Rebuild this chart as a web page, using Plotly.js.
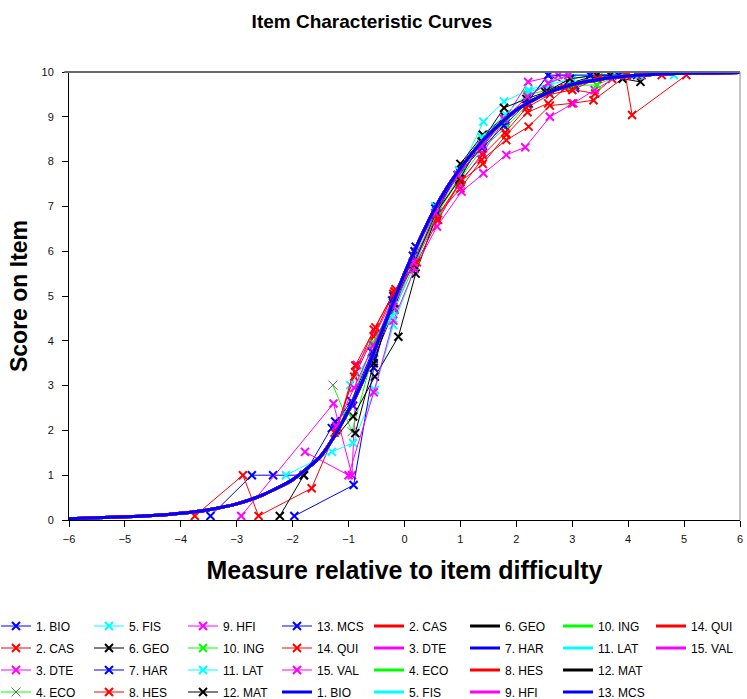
<!DOCTYPE html>
<html>
<head>
<meta charset="utf-8">
<script src="https://cdn.plot.ly/plotly-3.0.1.min.js"></script>
<style>html,body{margin:0;padding:0;background:#fff;}#chart{width:747px;height:699px;}</style>
</head>
<body>
<div id="chart"></div>
<script>
// ---------- DATA ----------
const itemLabels = ['1. BIO','2. CAS','3. DTE','4. ECO','5. FIS','6. GEO','7. HAR','8. HES','9. HFI','10. ING','11. LAT','12. MAT','13. MCS','14. QUI','15. VAL'];

// empirical points: measure relative to item difficulty (x) and observed score (y)
const bioX = [-3.47,-2.73,-2.35,-1.80,-1.24,-0.92,-0.55,-0.18,0.18,0.57,0.98,1.38,1.80,2.20,2.57,3.05,3.32];
const bioY = [0.09,1.0,1.0,1.0,2.2,2.55,3.6,4.7,6.0,6.9,7.8,8.4,8.9,9.35,9.93,9.64,9.93];
const casX = [-3.75,-2.89,-2.61,-1.66,-1.22,-0.88,-0.55,-0.18,0.20,0.58,1.00,1.38,1.82,2.22,2.60,2.99,3.38,3.98];
const casY = [0.09,1.0,0.09,0.71,2.0,3.3,4.25,5.1,5.9,6.8,7.4,8.04,8.48,8.78,9.25,9.3,9.37,9.93];
const dteX = [-2.92,-1.27,-0.94,-0.85,-0.52,-0.18,0.20,0.57,0.98,1.40,1.80,2.21,2.75,2.93];
const dteY = [0.09,2.6,1.0,3.46,4.15,5.0,5.8,6.7,7.5,8.2,8.95,9.78,9.93,9.93];
const ecoX = [-1.28,-0.94,-0.55,-0.18,0.18,0.56,0.98,1.40,1.80,2.22,2.55,3.00,3.50];
const ecoY = [3.01,1.97,3.75,4.7,5.7,6.8,7.6,8.3,8.75,9.3,9.6,9.7,9.93];
const fisX = [-2.12,-1.30,-0.92,-0.53,-0.20,0.18,0.55,1.00,1.41,1.78,2.22,2.60,2.93,3.71,4.82];
const fisY = [1.0,1.52,1.72,2.9,4.35,5.6,7.0,7.8,8.89,9.34,9.6,9.75,9.93,9.93,9.93];
const geoX = [-2.23,-1.80,-0.92,-0.53,-0.11,0.20,0.57,1.00,1.40,1.80,2.20,2.55,2.96,3.44,3.90,4.22];
const geoY = [0.09,1.0,2.31,3.2,4.09,5.5,6.8,7.95,8.6,9.0,9.3,9.6,9.75,9.93,9.85,9.78];
const harX = [-1.97,-0.91,-0.55,-0.20,0.20,0.58,1.00,1.40,1.80,2.22,2.57,3.05,3.83,4.16];
const harY = [0.09,0.78,3.4,5.0,6.1,7.0,7.75,8.35,8.95,9.3,9.55,9.7,9.93,9.93];
const hesX = [-1.25,-0.90,-0.55,-0.20,0.18,0.57,1.00,1.40,1.82,2.20,2.57,2.87,3.41,3.71,4.24,4.60];
const hesY = [1.95,3.2,4.1,5.05,5.85,6.75,7.55,7.95,8.6,9.1,9.3,9.64,9.52,9.85,9.93,9.93];
const hfiX = [-1.78,-1.00,-0.55,-0.20,0.18,0.58,1.02,1.41,1.82,2.16,2.60,3.02,3.40,3.85];
const hfiY = [1.52,1.0,2.85,4.45,5.6,6.55,7.33,7.74,8.15,8.32,9.0,9.3,9.6,9.93];
const ingX = [-1.02,-0.57,-0.20,0.20,0.60,1.00,1.40,1.80,2.20,2.60,3.00,3.44,3.83];
const ingY = [2.4,3.95,4.8,5.8,6.9,7.7,8.5,8.85,9.5,9.6,9.7,9.71,9.93];
const latX = [-0.97,-0.58,-0.22,0.18,0.55,0.98,1.38,1.80,2.22,2.60,3.00,3.44,4.20];
const latY = [3.01,3.75,4.55,5.85,7.0,7.8,8.55,9.05,9.55,9.72,9.85,9.93,9.93];
const matX = [-0.88,-0.55,-0.20,0.16,0.56,0.98,1.38,1.78,2.18,2.52,2.96,3.44,3.68];
const matY = [1.94,3.5,4.85,5.7,6.85,7.6,8.45,9.2,9.4,9.55,9.85,9.93,9.93];
const mcsX = [-1.30,-0.95,-0.58,-0.22,0.15,0.55,0.95,1.38,1.78,2.18,2.57,3.32,3.83];
const mcsY = [2.05,2.65,3.75,4.9,5.9,6.95,7.7,8.3,8.8,9.3,9.93,9.93,9.93];
const quiX = [-1.20,-0.88,-0.52,-0.16,0.22,0.60,1.02,1.40,1.80,2.18,2.60,3.00,3.45,3.95,4.07,5.04];
const quiY = [2.05,3.45,4.3,5.15,5.75,6.7,7.6,8.15,8.65,9.2,9.5,9.6,9.85,9.93,9.04,9.93];
const valX = [-1.22,-0.90,-0.56,-0.20,0.16,0.55,0.96,1.38,1.78,2.20,2.57,2.93];
const valY = [2.1,2.95,3.9,4.75,5.75,6.85,7.7,8.35,8.95,9.45,9.75,9.93];

// model (expected score) curve, identical for all items on the relative scale
const modelX = [-6,-5.5,-5,-4.5,-4,-3.5,-3,-2.5,-2,-1.5,-1.25,-1,-0.75,-0.5,-0.25,0,0.25,0.5,0.75,1,1.25,1.5,2,2.5,3,3.5,4,4.5,5,5.5,6];
const modelY = [0.03,0.05,0.07,0.1,0.15,0.23,0.36,0.58,0.9,1.42,1.88,2.45,3.1,3.9,4.7,5.5,6.2,6.85,7.4,7.85,8.25,8.6,9.15,9.5,9.72,9.84,9.91,9.95,9.97,9.98,9.99];

const empX = [bioX,casX,dteX,ecoX,fisX,geoX,harX,hesX,hfiX,ingX,latX,matX,mcsX,quiX,valX];
const empY = [bioY,casY,dteY,ecoY,fisY,geoY,harY,hesY,hfiY,ingY,latY,matY,mcsY,quiY,valY];

// ---------- STYLE ----------
const colors = ['#0000FF','#FF0000','#FF00FF','#00FF00','#00FFFF','#000000','#0000FF','#FF0000','#FF00FF','#00FF00','#00FFFF','#000000','#0000FF','#FF0000','#FF00FF'];
const FONT = 'Liberation Sans, Arial, Helvetica, sans-serif';
const L = 69, W = 671, T = 72, H = 448;
const colMarkerPx = [16,109,203,297,389,485,578,671];
const legendIds = ['legend','legend2','legend3','legend4','legend5','legend6','legend7','legend8'];
function legendFor(k){ return legendIds[Math.floor(k/4)]; }

const traces = [];
for (let i = 0; i < 15; i++) {
  const isEco = (i === 3);
  traces.push({
    type:'scatter', mode:'lines+markers', name: itemLabels[i],
    x: empX[i], y: empY[i],
    line:{color: colors[i], width:1},
    marker:{symbol:'x-thin-open', size: isEco ? 9 : 8, color: isEco ? '#5b6b5b' : colors[i],
            line:{width: isEco ? 1 : 2, color: isEco ? '#5b6b5b' : colors[i]}},
    legend: legendFor(i), legendgroup:'e'+i, legendrank: i+1, showlegend:true
  });
}
const modelOrder = [0,1,2,3,4,5,6,7,8,9,10,11,13,14,12];
for (const i of modelOrder) {
  traces.push({
    type:'scatter', mode:'lines', name: itemLabels[i],
    x: modelX, y: modelY,
    line:{color: colors[i], width:3, shape:'spline', smoothing:0.6},
    legend: legendFor(15+i), legendgroup:'m'+i, legendrank: 16+i, showlegend:true
  });
}

const layout = {
  width:747, height:699,
  margin:{l:L, r:747-L-W, t:T, b:699-T-H, autoexpand:false},
  paper_bgcolor:'#ffffff', plot_bgcolor:'#ffffff',
  font:{family:FONT, color:'#000'},
  title:{text:'Item Characteristic Curves', font:{family:FONT, size:19, weight:'bold', color:'#000'},
         xref:'container', x:0.498, xanchor:'center', yref:'container', y:1-21/699, yanchor:'middle'},
  xaxis:{range:[-6,6], tickmode:'linear', tick0:-6, dtick:1, showgrid:false, zeroline:false,
         showline:true, linecolor:'#000', linewidth:1, ticks:'outside', ticklen:6, tickcolor:'#000',
         tickfont:{size:11, family:FONT, color:'#111'}, ticklabelstandoff:3,
         title:{text:'Measure relative to item difficulty', font:{size:25, weight:'bold', family:FONT, color:'#000'}, standoff:17}},
  yaxis:{range:[0,10], tickmode:'linear', tick0:0, dtick:1, showgrid:false, zeroline:false,
         showline:true, linecolor:'#000', linewidth:1, ticks:'outside', ticklen:6, tickcolor:'#000',
         tickfont:{size:11, family:FONT, color:'#111'}, ticklabelstandoff:6,
         title:{text:'Score on Item', font:{size:23, weight:'bold', family:FONT, color:'#000'}, standoff:7}},
  shapes:[
    {type:'line', xref:'paper', yref:'paper', x0:-0.007, x1:1, y0:1, y1:1, line:{color:'#6a6a6a', width:2}},
    {type:'line', xref:'paper', yref:'paper', x0:1, x1:1, y0:0, y1:1, line:{color:'#8a8a8a', width:1}}
  ],
  showlegend:true
};
const legTop = 611.5;
legendIds.forEach((id, k) => {
  layout[id] = {
    x:(colMarkerPx[k] - 20 - L)/W, xanchor:'left', xref:'paper',
    y:(T + H - legTop)/H, yanchor:'top', yref:'paper',
    orientation:'v', bgcolor:'rgba(0,0,0,0)', borderwidth:0,
    font:{size:12, family:FONT, color:'#000'},
    traceorder:'grouped', tracegroupgap:3, itemwidth:30, visible:true
  };
});

Plotly.newPlot('chart', traces, layout, {displayModeBar:false, staticPlot:true});
</script>
</body>
</html>
